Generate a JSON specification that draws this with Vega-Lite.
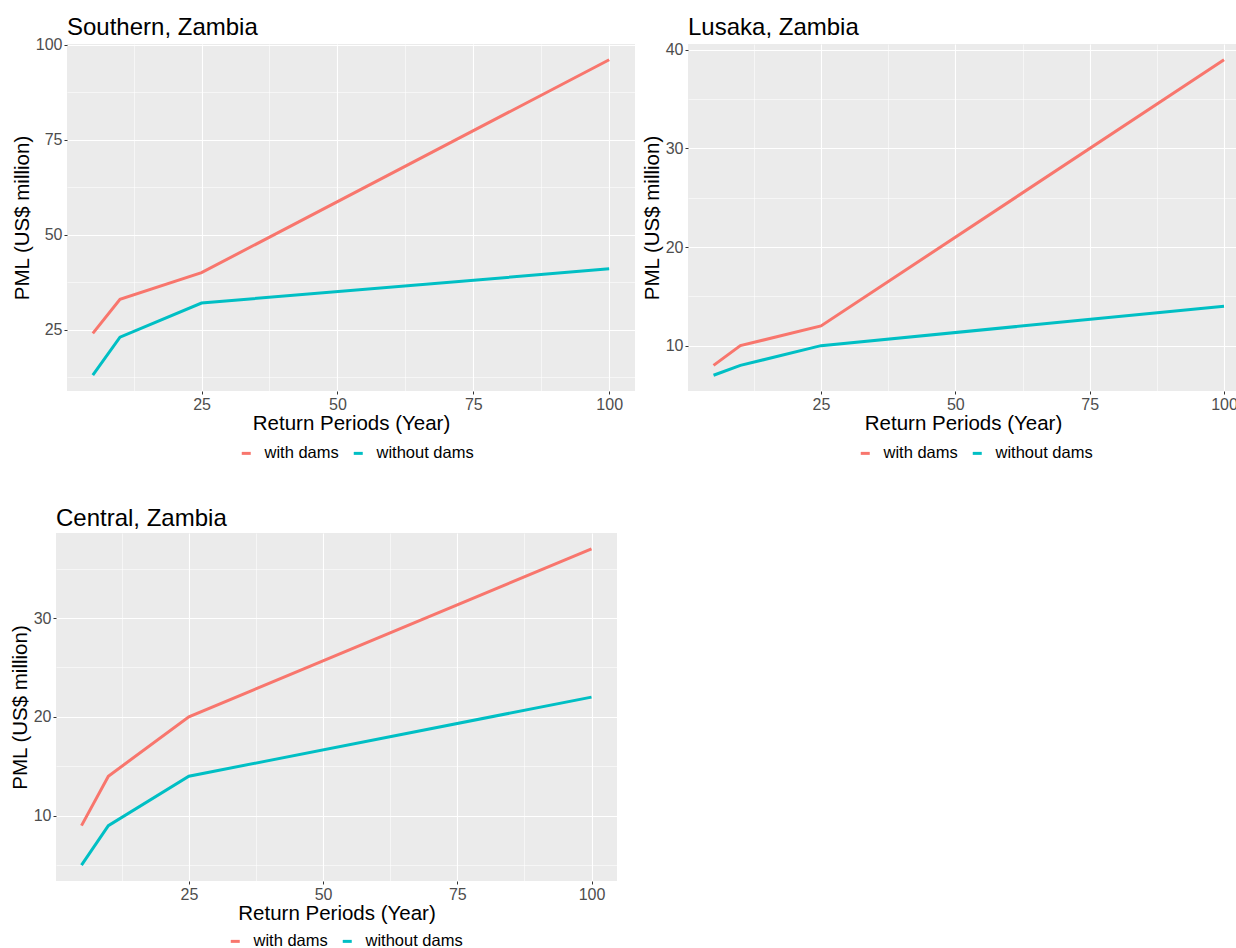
{
  "$schema": "https://vega.github.io/schema/vega-lite/v6.json",
  "background": "white",
  "padding": {"left": 2, "top": 15, "right": 0, "bottom": 0},
  "datasets": {
    "southern": [
      {"period": 5, "pml": 24, "scenario": "with dams"},
      {"period": 10, "pml": 33, "scenario": "with dams"},
      {"period": 25, "pml": 40, "scenario": "with dams"},
      {"period": 100, "pml": 96, "scenario": "with dams"},
      {"period": 5, "pml": 13, "scenario": "without dams"},
      {"period": 10, "pml": 23, "scenario": "without dams"},
      {"period": 25, "pml": 32, "scenario": "without dams"},
      {"period": 100, "pml": 41, "scenario": "without dams"}
    ],
    "lusaka": [
      {"period": 5, "pml": 8, "scenario": "with dams"},
      {"period": 10, "pml": 10, "scenario": "with dams"},
      {"period": 25, "pml": 12, "scenario": "with dams"},
      {"period": 100, "pml": 39, "scenario": "with dams"},
      {"period": 5, "pml": 7, "scenario": "without dams"},
      {"period": 10, "pml": 8, "scenario": "without dams"},
      {"period": 25, "pml": 10, "scenario": "without dams"},
      {"period": 100, "pml": 14, "scenario": "without dams"}
    ],
    "central": [
      {"period": 5, "pml": 9, "scenario": "with dams"},
      {"period": 10, "pml": 14, "scenario": "with dams"},
      {"period": 25, "pml": 20, "scenario": "with dams"},
      {"period": 100, "pml": 37, "scenario": "with dams"},
      {"period": 5, "pml": 5, "scenario": "without dams"},
      {"period": 10, "pml": 9, "scenario": "without dams"},
      {"period": 25, "pml": 14, "scenario": "without dams"},
      {"period": 100, "pml": 22, "scenario": "without dams"}
    ],
    "blank": [{"k": 0}]
  },
  "config": {
    "font": "Liberation Sans",
    "view": {"fill": "#EBEBEB", "stroke": null},
    "axis": {
      "domain": false,
      "tickColor": "#333333",
      "tickSize": 3,
      "tickWidth": 1,
      "labelColor": "#4D4D4D",
      "labelFont": "Liberation Sans",
      "labelFontSize": 16,
      "labelPadding": 2,
      "titleFont": "Liberation Sans",
      "titleFontSize": 20.5,
      "titleFontWeight": "normal",
      "titleColor": "black",
      "titlePadding": 3,
      "gridColor": "white"
    },
    "title": {
      "anchor": "start",
      "frame": "group",
      "font": "Liberation Sans",
      "fontSize": 24,
      "fontWeight": "normal",
      "color": "black",
      "offset": 2
    }
  },
  "spacing": 45,
  "vconcat": [
    {
      "spacing": 7,
      "hconcat": [
        {
          "width": 3,
          "height": 1,
          "view": {"fill": null, "stroke": null},
          "data": {"name": "blank"},
          "mark": {"type": "text", "text": ""},
          "encoding": {}
        },
        {
          "title": {"text": "Southern, Zambia", "offset": -3},
          "width": 568,
          "height": 347,
          "data": {"name": "southern"},
          "mark": {"type": "line", "strokeWidth": 3},
          "encoding": {
            "x": {
              "field": "period", "type": "quantitative",
              "title": "Return Periods (Year)",
              "scale": {"domain": [0.25, 104.75], "nice": false, "zero": false},
              "axis": {
                "values": [12.5, 25, 37.5, 50, 62.5, 75, 87.5, 100],
                "format": "d",
                "labelExpr": "datum.value % 25 === 0 ? datum.label : ''",
                "tickOpacity": {"condition": {"test": "datum.value % 25 === 0", "value": 1}, "value": 0},
                "gridWidth": {"condition": {"test": "datum.value % 25 === 0", "value": 1.1}, "value": 0.55},
                "titlePadding": 1
              }
            },
            "y": {
              "field": "pml", "type": "quantitative",
              "title": "PML (US$ million)",
              "scale": {"domain": [8.85, 100.15], "nice": false, "zero": false},
              "axis": {
                "values": [12.5, 25, 37.5, 50, 62.5, 75, 87.5, 100],
                "format": "d",
                "labelExpr": "datum.value % 25 === 0 ? datum.label : ''",
                "tickOpacity": {"condition": {"test": "datum.value % 25 === 0", "value": 1}, "value": 0},
                "gridWidth": {"condition": {"test": "datum.value % 25 === 0", "value": 1.1}, "value": 0.55}
              }
            },
            "color": {
              "field": "scenario", "type": "nominal",
              "scale": {"domain": ["with dams", "without dams"], "range": ["#F8766D", "#00BFC4"]},
              "legend": {
                "orient": "none", "legendX": 171, "legendY": 401, "direction": "horizontal",
                "title": null, "symbolType": "stroke", "symbolSize": 81, "symbolStrokeWidth": 3,
                "labelFontSize": 16.5, "labelColor": "black", "labelOffset": 10, "columnPadding": 8
              }
            }
          }
        },
        {
          "title": "Lusaka, Zambia",
          "width": 550,
          "height": 347,
          "data": {"name": "lusaka"},
          "mark": {"type": "line", "strokeWidth": 3},
          "encoding": {
            "x": {
              "field": "period", "type": "quantitative",
              "title": "Return Periods (Year)",
              "scale": {"domain": [0.25, 102.6], "nice": false, "zero": false},
              "axis": {
                "values": [12.5, 25, 37.5, 50, 62.5, 75, 87.5, 100],
                "format": "d",
                "labelExpr": "datum.value % 25 === 0 ? datum.label : ''",
                "tickOpacity": {"condition": {"test": "datum.value % 25 === 0", "value": 1}, "value": 0},
                "gridWidth": {"condition": {"test": "datum.value % 25 === 0", "value": 1.1}, "value": 0.55},
                "titlePadding": 1
              }
            },
            "y": {
              "field": "pml", "type": "quantitative",
              "title": "PML (US$ million)",
              "scale": {"domain": [5.4, 40.6], "nice": false, "zero": false},
              "axis": {
                "values": [10, 15, 20, 25, 30, 35, 40],
                "format": "d",
                "labelExpr": "datum.value % 10 === 0 ? datum.label : ''",
                "tickOpacity": {"condition": {"test": "datum.value % 10 === 0", "value": 1}, "value": 0},
                "gridWidth": {"condition": {"test": "datum.value % 10 === 0", "value": 1.1}, "value": 0.55}
              }
            },
            "color": {
              "field": "scenario", "type": "nominal",
              "scale": {"domain": ["with dams", "without dams"], "range": ["#F8766D", "#00BFC4"]},
              "legend": {
                "orient": "none", "legendX": 169, "legendY": 401, "direction": "horizontal",
                "title": null, "symbolType": "stroke", "symbolSize": 81, "symbolStrokeWidth": 3,
                "labelFontSize": 16.5, "labelColor": "black", "labelOffset": 10, "columnPadding": 8
              }
            }
          }
        }
      ],
      "resolve": {"scale": {"x": "independent", "y": "independent", "color": "independent"}, "legend": {"color": "independent"}, "axis": {"x": "independent", "y": "independent"}}
    },
    {
      "spacing": 7,
      "hconcat": [
        {
          "width": 1,
          "height": 1,
          "view": {"fill": null, "stroke": null},
          "data": {"name": "blank"},
          "mark": {"type": "text", "text": ""},
          "encoding": {}
        },
        {
          "title": "Central, Zambia",
          "width": 561,
          "height": 348,
          "data": {"name": "central"},
          "mark": {"type": "line", "strokeWidth": 3},
          "encoding": {
            "x": {
              "field": "period", "type": "quantitative",
              "title": "Return Periods (Year)",
              "scale": {"domain": [0.25, 104.75], "nice": false, "zero": false},
              "axis": {
                "values": [12.5, 25, 37.5, 50, 62.5, 75, 87.5, 100],
                "format": "d",
                "labelExpr": "datum.value % 25 === 0 ? datum.label : ''",
                "tickOpacity": {"condition": {"test": "datum.value % 25 === 0", "value": 1}, "value": 0},
                "gridWidth": {"condition": {"test": "datum.value % 25 === 0", "value": 1.1}, "value": 0.55},
                "titlePadding": 1
              }
            },
            "y": {
              "field": "pml", "type": "quantitative",
              "title": "PML (US$ million)",
              "scale": {"domain": [3.4, 38.6], "nice": false, "zero": false},
              "axis": {
                "values": [5, 10, 15, 20, 25, 30, 35],
                "format": "d",
                "labelExpr": "datum.value % 10 === 0 ? datum.label : ''",
                "tickOpacity": {"condition": {"test": "datum.value % 10 === 0", "value": 1}, "value": 0},
                "gridWidth": {"condition": {"test": "datum.value % 10 === 0", "value": 1.1}, "value": 0.55}
              }
            },
            "color": {
              "field": "scenario", "type": "nominal",
              "scale": {"domain": ["with dams", "without dams"], "range": ["#F8766D", "#00BFC4"]},
              "legend": {
                "orient": "none", "legendX": 171, "legendY": 400, "direction": "horizontal",
                "title": null, "symbolType": "stroke", "symbolSize": 81, "symbolStrokeWidth": 3,
                "labelFontSize": 16.5, "labelColor": "black", "labelOffset": 10, "columnPadding": 8
              }
            }
          }
        }
      ],
      "resolve": {"scale": {"x": "independent", "y": "independent", "color": "independent"}, "legend": {"color": "independent"}, "axis": {"x": "independent", "y": "independent"}}
    }
  ],
  "resolve": {"scale": {"x": "independent", "y": "independent", "color": "independent"}, "legend": {"color": "independent"}, "axis": {"x": "independent", "y": "independent"}}
}
